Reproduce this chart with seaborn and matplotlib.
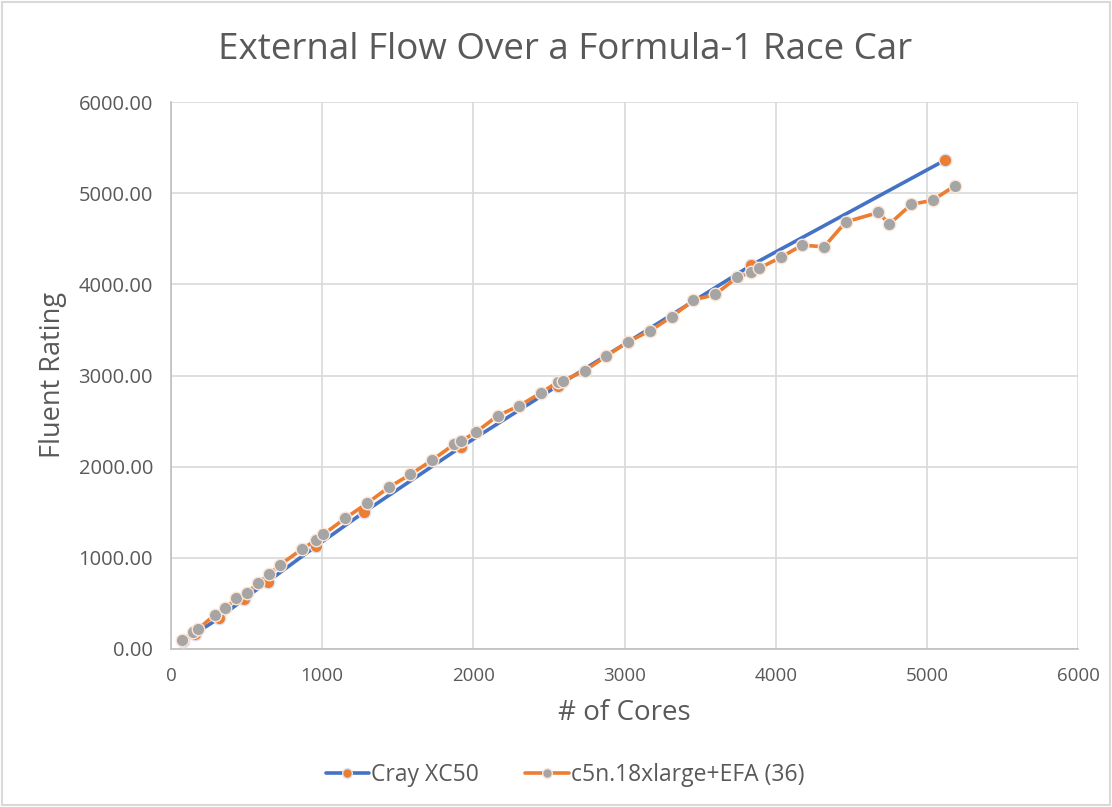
import matplotlib
matplotlib.use("Agg")
import matplotlib.pyplot as plt
from matplotlib.lines import Line2D
from matplotlib.patches import Rectangle
import seaborn as sns
import pandas as pd

title = "External Flow Over a Formula-1 Race Car"
x_label = "# of Cores"
y_label = "Fluent Rating"
series_names = ["Cray XC50", "c5n.18xlarge+EFA (36)"]

cray_cores = [80, 160, 320, 480, 640, 960, 1280, 1920, 2560, 3840, 5120]
cray_rating = [85, 170, 340, 545, 740, 1129, 1505, 2218, 2890, 4211, 5362]

aws_cores = [72, 144, 180, 288, 360, 432, 504, 576, 648, 720, 864, 960, 1008,
             1152, 1296, 1440, 1584, 1728, 1872, 1920, 2016, 2160, 2304, 2448,
             2560, 2592, 2736, 2880, 3024, 3168, 3312, 3456, 3600, 3744, 3840,
             3888, 4032, 4176, 4320, 4464, 4680, 4752, 4896, 5040, 5184]
aws_rating = [95, 183, 219, 373, 446, 556, 614, 727, 819, 921, 1093, 1195, 1257,
              1433, 1597, 1773, 1915, 2072, 2244, 2284, 2376, 2558, 2668, 2810,
              2931, 2942, 3052, 3213, 3370, 3490, 3644, 3827, 3889, 4076, 4130,
              4174, 4295, 4430, 4411, 4685, 4788, 4660, 4876, 4923, 5080]

x_ticks = [0, 1000, 2000, 3000, 4000, 5000, 6000]
y_ticks = [0, 1000, 2000, 3000, 4000, 5000, 6000]

BLUE = "#4472c4"
ORANGE = "#ed7d31"
GRAY = "#a5a5a5"
TXT = "#595959"
GRID = "#d9d9d9"

sns.set_theme(style="white")
plt.rcParams["font.family"] = ["Open Sans", "DejaVu Sans"]

fig = plt.figure(figsize=(11.12, 8.07), dpi=100)
ax = fig.add_axes([171 / 1112, 1 - 649 / 807, (1078 - 171) / 1112, (649 - 102) / 807])

df_cray = pd.DataFrame({"cores": cray_cores, "rating": cray_rating})
df_aws = pd.DataFrame({"cores": aws_cores, "rating": aws_rating})

sns.lineplot(data=df_cray, x="cores", y="rating", ax=ax, color=BLUE, linewidth=2.6,
             marker="o", markersize=9, markerfacecolor=ORANGE, markeredgecolor="#dae3f3",
             markeredgewidth=1.0, sort=False, zorder=3)
sns.lineplot(data=df_aws, x="cores", y="rating", ax=ax, color=ORANGE, linewidth=2.6,
             marker="o", markersize=9, markerfacecolor=GRAY, markeredgecolor="#fbe5d6",
             markeredgewidth=1.0, sort=False, zorder=4)

ax.set_xlim(0, 6000)
ax.set_ylim(0, 6000)
ax.set_xticks(x_ticks)
ax.set_yticks(y_ticks)
ax.set_xticklabels([str(t) for t in x_ticks])
ax.set_yticklabels([f"{t:.2f}" for t in y_ticks])
ax.tick_params(axis="x", colors=TXT, labelsize=13.5, length=0, pad=13)
ax.tick_params(axis="y", colors=TXT, labelsize=14.5, length=0, pad=13)
ax.grid(True, color=GRID, linewidth=1.2)
ax.set_axisbelow(True)
for side in ["top", "right"]:
    ax.spines[side].set_visible(False)
for side in ["left", "bottom"]:
    ax.spines[side].set_color("#bfbfbf")
    ax.spines[side].set_linewidth(1.2)

ax.set_xlabel(x_label, fontsize=20, color=TXT, labelpad=10)
ax.set_ylabel(y_label, fontsize=19.5, color=TXT, labelpad=8)
fig.text(565 / 1112, 1 - 50 / 807, title, ha="center", va="center", fontsize=26.5, color=TXT)

handles = [
    Line2D([0], [0], color=BLUE, lw=2.6, marker="o", markersize=7,
           markerfacecolor=ORANGE, markeredgecolor="#dae3f3"),
    Line2D([0], [0], color=ORANGE, lw=2.6, marker="o", markersize=7,
           markerfacecolor=GRAY, markeredgecolor="#fbe5d6"),
]
leg = fig.legend(handles, series_names, loc="center", bbox_to_anchor=(565 / 1112, 1 - 775 / 807),
                 ncol=2, frameon=False, fontsize=16.5, handlelength=1.9, handletextpad=0.1,
                 columnspacing=2.0)
for t in leg.get_texts():
    t.set_color(TXT)

fig.patches.append(Rectangle((0.002, 0.002), 0.996, 0.996, transform=fig.transFigure,
                             fill=False, edgecolor=GRID, linewidth=1.5))

fig.savefig("out.png", dpi=100, facecolor="white")
